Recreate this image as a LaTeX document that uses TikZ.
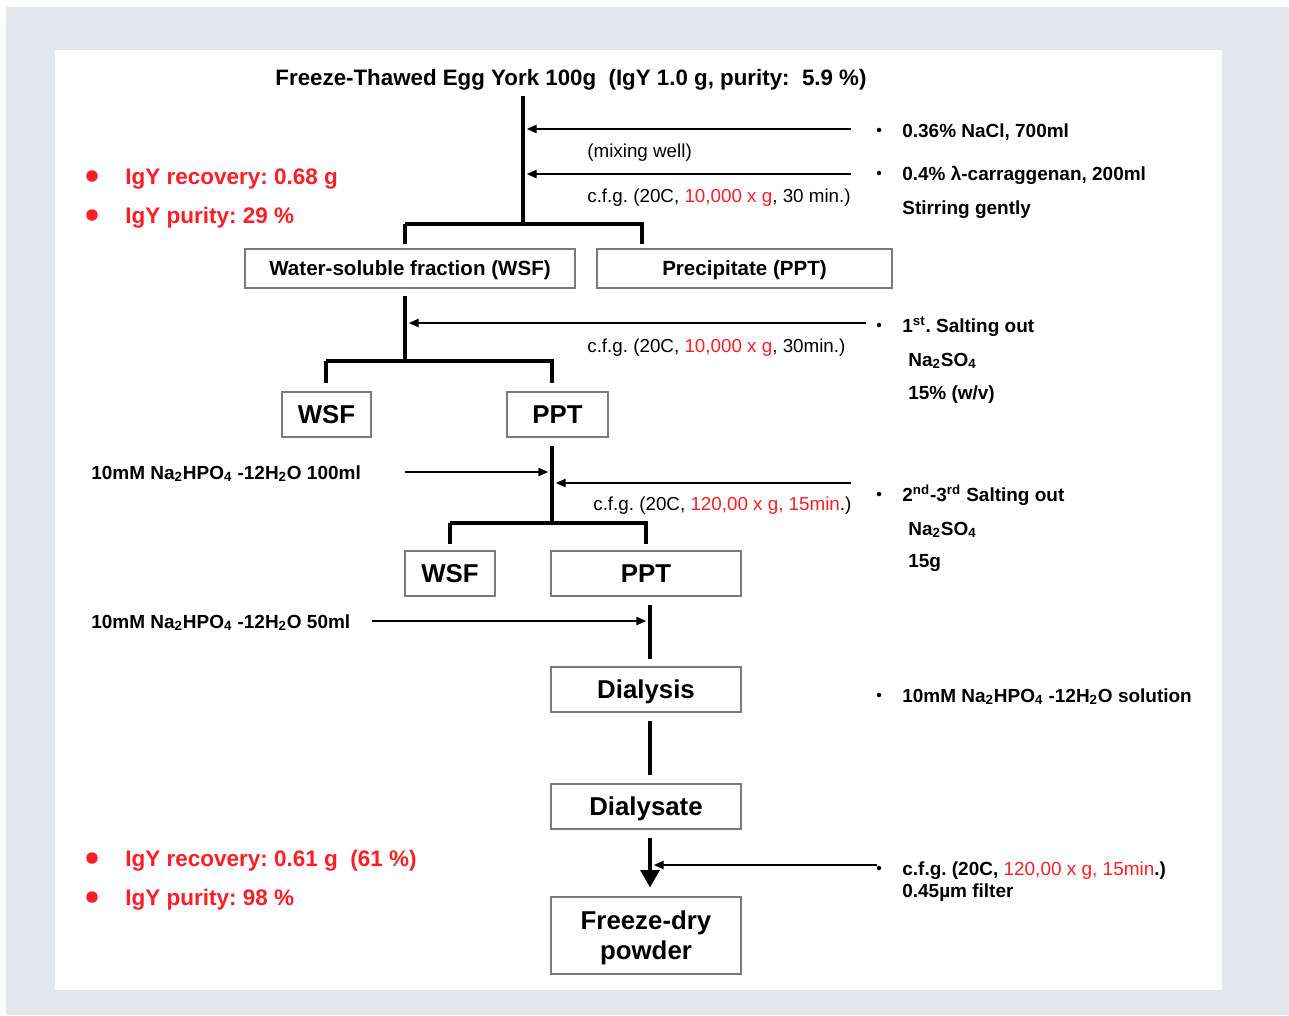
\documentclass[tikz,border=0pt]{standalone}
\usepackage{fontspec}
\setmainfont{Liberation Sans}
\usetikzlibrary{positioning,arrows.meta}
\frenchspacing

\definecolor{bggray}{HTML}{E4E8EC}
\definecolor{boxgray}{HTML}{7A7A7A}
\definecolor{redtxt}{HTML}{FF1E28}

\tikzset{
  lbl/.style={inner sep=0,anchor=base west,font=\fontsize{10.7}{12}\selectfont},
  blbl/.style={inner sep=0,anchor=base west,font=\bfseries\fontsize{10.8}{12}\selectfont},
  rlbl/.style={inner sep=0,anchor=base west,text=redtxt,font=\bfseries\fontsize{12.8}{14}\selectfont},
  rdot/.style={circle,fill=redtxt,inner sep=0,minimum size=2.3mm},
  bul/.style={circle,fill=black,inner sep=0,minimum size=0.9mm},
  frame/.style={draw=boxgray,line width=0.7pt,inner sep=0},
  box/.style={frame,font=\bfseries\fontsize{11.7}{13}\selectfont,text height=8.4pt,text depth=0pt},
  sbox/.style={frame,font=\bfseries\fontsize{14.7}{17}\selectfont,text height=10.5pt,text depth=0pt},
  trunk/.style={line width=2.8pt},
  feed/.style={line width=0.8pt,-{Triangle[length=5.6pt,width=4.8pt]}}
}

\begin{document}
\begin{tikzpicture}[x=0.02cm,y=-0.02cm]
\useasboundingbox (0,0) rectangle (1289,1015);
\fill[bggray] (6,7) rectangle (1289,1015);
\fill[white] (55,50) rectangle (1222,990);

% title
\node (title) [inner sep=0,anchor=base,font=\bfseries\fontsize{12.7}{14}\selectfont] at (571,85)
  {Freeze-Thawed Egg York 100g~ (IgY 1.0 g, purity:~ 5.9 \%)};

% boxes
\node (wsfA) [box,minimum width=66mm,minimum height=7.8mm] at (410,268.5) {Water-soluble fraction (WSF)};
\node (pptA) [box,minimum width=59mm,minimum height=7.8mm] at (744.5,268.5) {Precipitate (PPT)};
\node (wsfB) [sbox,minimum width=17.8mm,minimum height=9mm] at (326.5,414.5) {WSF};
\node (pptB) [sbox,minimum width=20.2mm,minimum height=9mm] at (557.5,414.5) {PPT};
\node (wsfC) [sbox,minimum width=18mm,minimum height=9mm] at (450,573.5) {WSF};
\node (pptC) [sbox,minimum width=38mm,minimum height=9mm] at (646,573.5) {PPT};
\node (dial) [sbox,minimum width=38mm,minimum height=9mm] at (646,689.5) {Dialysis};
\node (dsate) [sbox,minimum width=38mm,minimum height=9mm] at (646,806.5) {Dialysate};
\node (fdry) [sbox,text height=27.5pt,minimum width=38mm,minimum height=15.4mm,align=center] at (646,935.5)
  {Freeze-dry\\powder};

% trunk lines
\coordinate (top) at (523,96);
\coordinate (fork1) at (523,224);
\coordinate (fork1l) at (405,224);
\coordinate (fork1r) at (642,224);
\coordinate (fork2) at (405,361);
\coordinate (fork2l) at (326,361);
\coordinate (fork2r) at (552,361);
\coordinate (fork3) at (552,523);
\coordinate (fork3l) at (450,523);
\coordinate (fork3r) at (646,523);
\coordinate (stem) at (650,600);

\draw[trunk] (top) -- (fork1);
\draw[trunk,shorten >=2.3pt] (fork1l) -- (fork1r) -- (pptA.north -| fork1r);
\draw[trunk,shorten >=2.3pt] (fork1l) -- (wsfA.north -| fork1l);
\draw[trunk,shorten <=4pt] (wsfA.south -| fork2) -- (fork2);
\draw[trunk,shorten >=4.5pt] (fork2l) -- (fork2r) -- (pptB.north -| fork2r);
\draw[trunk,shorten >=4.5pt] (fork2l) -- (wsfB.north -| fork2l);
\draw[trunk,shorten <=4.5pt] (pptB.south -| fork3) -- (fork3);
\draw[trunk,shorten >=3.4pt] (fork3l) -- (fork3r) -- (pptC.north -| fork3r);
\draw[trunk,shorten >=3.4pt] (fork3l) -- (wsfC.north -| fork3l);
\draw[trunk,shorten <=4.5pt,shorten >=4pt] (pptC.south -| stem) -- (dial.north -| stem);
\draw[trunk,shorten <=4.5pt,shorten >=4.5pt] (dial.south -| stem) -- (dsate.north -| stem);
\draw[trunk,-{Triangle[length=10pt,width=10.5pt]},shorten <=4.5pt,shorten >=5pt]
  (dsate.south -| stem) -- (fdry.north -| stem);

% feeds
\coordinate (f1) at (851,129);
\coordinate (f2) at (851,174);
\coordinate (f3) at (866,323);
\coordinate (f4) at (405,472);
\coordinate (f5) at (851,483);
\coordinate (f6) at (372,621);
\coordinate (f7) at (877,865);
\draw[feed,shorten >=2.2pt] (f1) -- (f1 -| top);
\draw[feed,shorten >=2.2pt] (f2) -- (f2 -| top);
\draw[feed,shorten >=2.2pt] (f3) -- (f3 -| fork2);
\draw[feed,shorten >=2.2pt] (f4) -- (f4 -| fork3);
\draw[feed,shorten >=2.2pt] (f5) -- (f5 -| fork3);
\draw[feed,shorten >=2.2pt] (f6) -- (f6 -| stem);
\draw[feed,shorten >=2.2pt] (f7) -- (f7 -| stem);

% side notes
\node (mix) [lbl] at (587,157) {(mixing well)};
\node (cfg1) [lbl] at (587,202) {c.f.g. (20C, \textcolor{redtxt}{10,000 x g}, 30 min.)};
\node (cfg2) [lbl] at (587,352) {c.f.g. (20C, \textcolor{redtxt}{10,000 x g}, 30min.)};
\node (cfg3) [lbl] at (593,510) {c.f.g. (20C, \textcolor{redtxt}{120,00 x g, 15min}.)};

\node (bu1) [bul] at (879,130) {};
\node (bu2) [bul] at (879,173) {};
\node (bu3) [bul] at (879,325) {};
\node (bu4) [bul] at (879,494) {};
\node (bu5) [bul] at (879,695) {};
\node (bu6) [bul] at (879,868) {};

\node (nacl) [blbl] at (902,137) {0.36\% NaCl, 700ml};
\node (carr) [blbl] at (902,180) {0.4\% λ-carraggenan, 200ml};
\node (stir) [blbl] at (902,214) {Stirring gently};
\node (salt1) [blbl] at (902,332) {1\textsuperscript{st}. Salting out};
\node (sulf1) [blbl] at (908,366) {Na\textsubscript{2}SO\textsubscript{4}};
\node (wv) [blbl] at (908,399) {15\% (w/v)};
\node (salt2) [blbl] at (902,501) {2\textsuperscript{nd}-3\textsuperscript{rd} Salting out};
\node (sulf2) [blbl] at (908,535) {Na\textsubscript{2}SO\textsubscript{4}};
\node (gram) [blbl] at (908,567) {15g};
\node (sol) [blbl] at (902,702) {10mM Na\textsubscript{2}HPO\textsubscript{4} -12H\textsubscript{2}O solution};
\node (cfg4) [blbl] at (902,875) {c.f.g. (20C, \textcolor{redtxt}{\mdseries 120,00 x g, 15min}.)};
\node (filt) [blbl] at (902,897) {0.45µm filter};

\node (buf1) [blbl] at (91,479) {10mM Na\textsubscript{2}HPO\textsubscript{4} -12H\textsubscript{2}O 100ml};
\node (buf2) [blbl] at (91,628) {10mM Na\textsubscript{2}HPO\textsubscript{4} -12H\textsubscript{2}O 50ml};

% yields
\node (rd1) [rdot] at (92,176) {};
\node (rd2) [rdot] at (92,215) {};
\node (rd3) [rdot] at (92,858) {};
\node (rd4) [rdot] at (92,897) {};
\node (rec1) [rlbl] at (125,184) {IgY recovery: 0.68 g};
\node (pur1) [rlbl] at (125,223) {IgY purity: 29 \%};
\node (rec2) [rlbl] at (125,866) {IgY recovery: 0.61 g~ (61 \%)};
\node (pur2) [rlbl] at (125,905) {IgY purity: 98 \%};

\end{tikzpicture}
\end{document}
